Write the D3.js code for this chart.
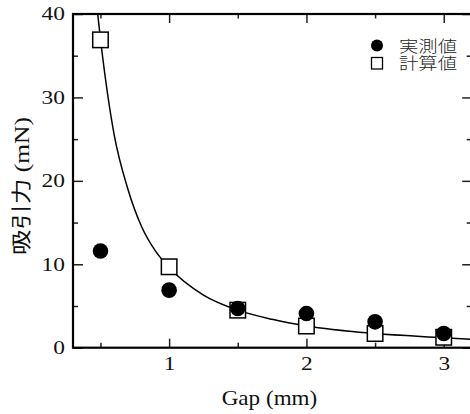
<!DOCTYPE html>
<html>
<head>
<meta charset="utf-8">
<script src="https://cdn.jsdelivr.net/npm/d3@7"></script>
<style>
  body { margin: 0; background: #fff; }
  svg { display: block; }
</style>
</head>
<body>
<div id="chart"></div>
<script>
// values
const gaps = [0.5, 1, 1.5, 2, 2.5, 3];
const measured = [11.6, 6.9, 4.7, 4.1, 3.1, 1.7];     // 実測値
const calculated = [36.9, 9.7, 4.5, 2.6, 1.7, 1.25];  // 計算値
const curveGap = [0.46, 0.5, 0.6, 0.7, 0.8, 0.9, 1.0, 1.25, 1.5, 1.75, 2.0, 2.5, 3.0, 3.2];
const curveForce = [43, 37, 25.5, 19, 14.5, 11.6, 9.6, 6.3, 4.5, 3.4, 2.6, 1.7, 1.2, 1.0];
const xMajor = [1, 2, 3];
const xMinor = [0.5, 1.5, 2.5];
const yMajor = [0, 10, 20, 30, 40];
const yMinor = [5, 15, 25, 35];
const legendLabels = ["実測値", "計算値"];

const W = 470, H = 414;
const mL = 73, mR = 471.2, mT = 14, mB = 347.7;

const svg = d3.select("#chart").append("svg")
    .attr("width", W)
    .attr("height", H);

const x = d3.scaleLinear().domain([0.3, 3.2]).range([mL, mR]);
const y = d3.scaleLinear().domain([0, 40]).range([mB, mT]);

const serif = "Liberation Serif";
const cjk = "Liberation Serif, Noto Sans CJK JP";

// stretch text horizontally, like the original figure's wide type
function stretch(sel, k) {
    sel.each(function() {
        const len = this.getComputedTextLength();
        d3.select(this).attr("textLength", len * k).attr("lengthAdjust", "spacingAndGlyphs");
    });
}

svg.append("clipPath").attr("id", "plot")
  .append("rect").attr("x", mL).attr("y", mT)
    .attr("width", mR - mL).attr("height", mB - mT);

// axes: ticks point inward
const gB = svg.append("g").attr("transform", `translate(0,${mB})`)
    .call(d3.axisTop(x).tickValues(xMajor).tickSize(9).tickFormat(""));
gB.append("g").call(d3.axisTop(x).tickValues(xMinor).tickSize(5).tickFormat(""));
gB.selectAll(".domain").remove();

const gT = svg.append("g").attr("transform", `translate(0,${mT})`)
    .call(d3.axisBottom(x).tickValues(xMajor).tickSize(9).tickFormat(""));
gT.append("g").call(d3.axisBottom(x).tickValues(xMinor).tickSize(4.5).tickFormat(""));
gT.selectAll(".domain").remove();

const gL = svg.append("g").attr("transform", `translate(${mL},0)`)
    .call(d3.axisRight(y).tickValues(yMajor).tickSize(10).tickFormat(""));
gL.append("g").call(d3.axisRight(y).tickValues(yMinor).tickSize(5).tickFormat(""));
gL.selectAll(".domain").remove();

const gR = svg.append("g").attr("transform", `translate(${mR},0)`)
    .call(d3.axisLeft(y).tickValues(yMajor).tickSize(9).tickFormat(""));
gR.append("g").call(d3.axisLeft(y).tickValues(yMinor).tickSize(4.5).tickFormat(""));
gR.selectAll(".domain").remove();

svg.selectAll(".tick line").attr("stroke", "#222").attr("stroke-width", 1.5);

// frame
svg.append("rect")
    .attr("x", mL).attr("y", mT)
    .attr("width", mR - mL).attr("height", mB - mT)
    .attr("fill", "none").attr("stroke", "#000").attr("stroke-width", 2.2);

// tick labels
const xl = svg.append("g").attr("transform", `translate(0,${mB})`)
    .call(d3.axisBottom(x).tickValues(xMajor).tickSize(0).tickPadding(10).tickFormat(d3.format("d")));
xl.select(".domain").remove();

const yl = svg.append("g").attr("transform", `translate(${mL},0)`)
    .call(d3.axisLeft(y).tickValues(yMajor).tickSize(0).tickPadding(8).tickFormat(d3.format("d")));
yl.select(".domain").remove();

[xl, yl].forEach(g => g.attr("font-family", serif).attr("font-size", 18)
    .selectAll("text").attr("fill", "#111"));
svg.selectAll(".tick text").call(stretch, 1.3);

// axis titles
svg.append("text")
    .attr("x", 269.5).attr("y", 405)
    .attr("text-anchor", "middle")
    .attr("font-family", serif).attr("font-size", 21).attr("fill", "#111")
    .text("Gap (mm)")
    .call(stretch, 1.1);

svg.append("text")
    .attr("transform", "translate(29,186) rotate(-90)")
    .attr("text-anchor", "middle")
    .attr("font-family", cjk).attr("font-size", 20).attr("fill", "#111")
    .text("吸引力 (mN)")
    .attr("textLength", 138).attr("lengthAdjust", "spacingAndGlyphs");

// fitted curve
const pts = curveGap.map((g, i) => [g, curveForce[i]]);
svg.append("path")
    .datum(pts)
    .attr("clip-path", "url(#plot)")
    .attr("fill", "none")
    .attr("stroke", "#000")
    .attr("stroke-width", 1.5)
    .attr("d", d3.line().x(d => x(d[0])).y(d => y(d[1])).curve(d3.curveMonotoneX));

// calculated: open squares
const s = 15.5;
svg.selectAll(".calc").data(gaps).enter().append("rect")
    .attr("class", "calc")
    .attr("x", d => x(d) - s / 2)
    .attr("y", (d, i) => y(calculated[i]) - s / 2)
    .attr("width", s).attr("height", s)
    .attr("fill", "#fff").attr("stroke", "#000").attr("stroke-width", 1.5);

// measured: filled circles
svg.selectAll(".meas").data(gaps).enter().append("circle")
    .attr("class", "meas")
    .attr("cx", d => x(d))
    .attr("cy", (d, i) => y(measured[i]))
    .attr("r", 7.8)
    .attr("fill", "#000");

// legend
const lg = svg.append("g");
lg.append("circle").attr("cx", 377).attr("cy", 45.5).attr("r", 6).attr("fill", "#000");
lg.append("rect").attr("x", 371.5).attr("y", 57.5).attr("width", 11).attr("height", 11.5)
    .attr("fill", "#fff").attr("stroke", "#000").attr("stroke-width", 1.3);
lg.selectAll(".lt").data(legendLabels).enter().append("text")
    .attr("class", "lt")
    .attr("x", 399).attr("y", (d, i) => 51.5 + i * 17.6)
    .attr("font-family", "Liberation Serif, Noto Sans CJK JP")
    .attr("font-size", 15.5).attr("font-weight", 300).attr("fill", "#222")
    .text(d => d)
    .attr("textLength", 58).attr("lengthAdjust", "spacingAndGlyphs");
</script>
</body>
</html>
